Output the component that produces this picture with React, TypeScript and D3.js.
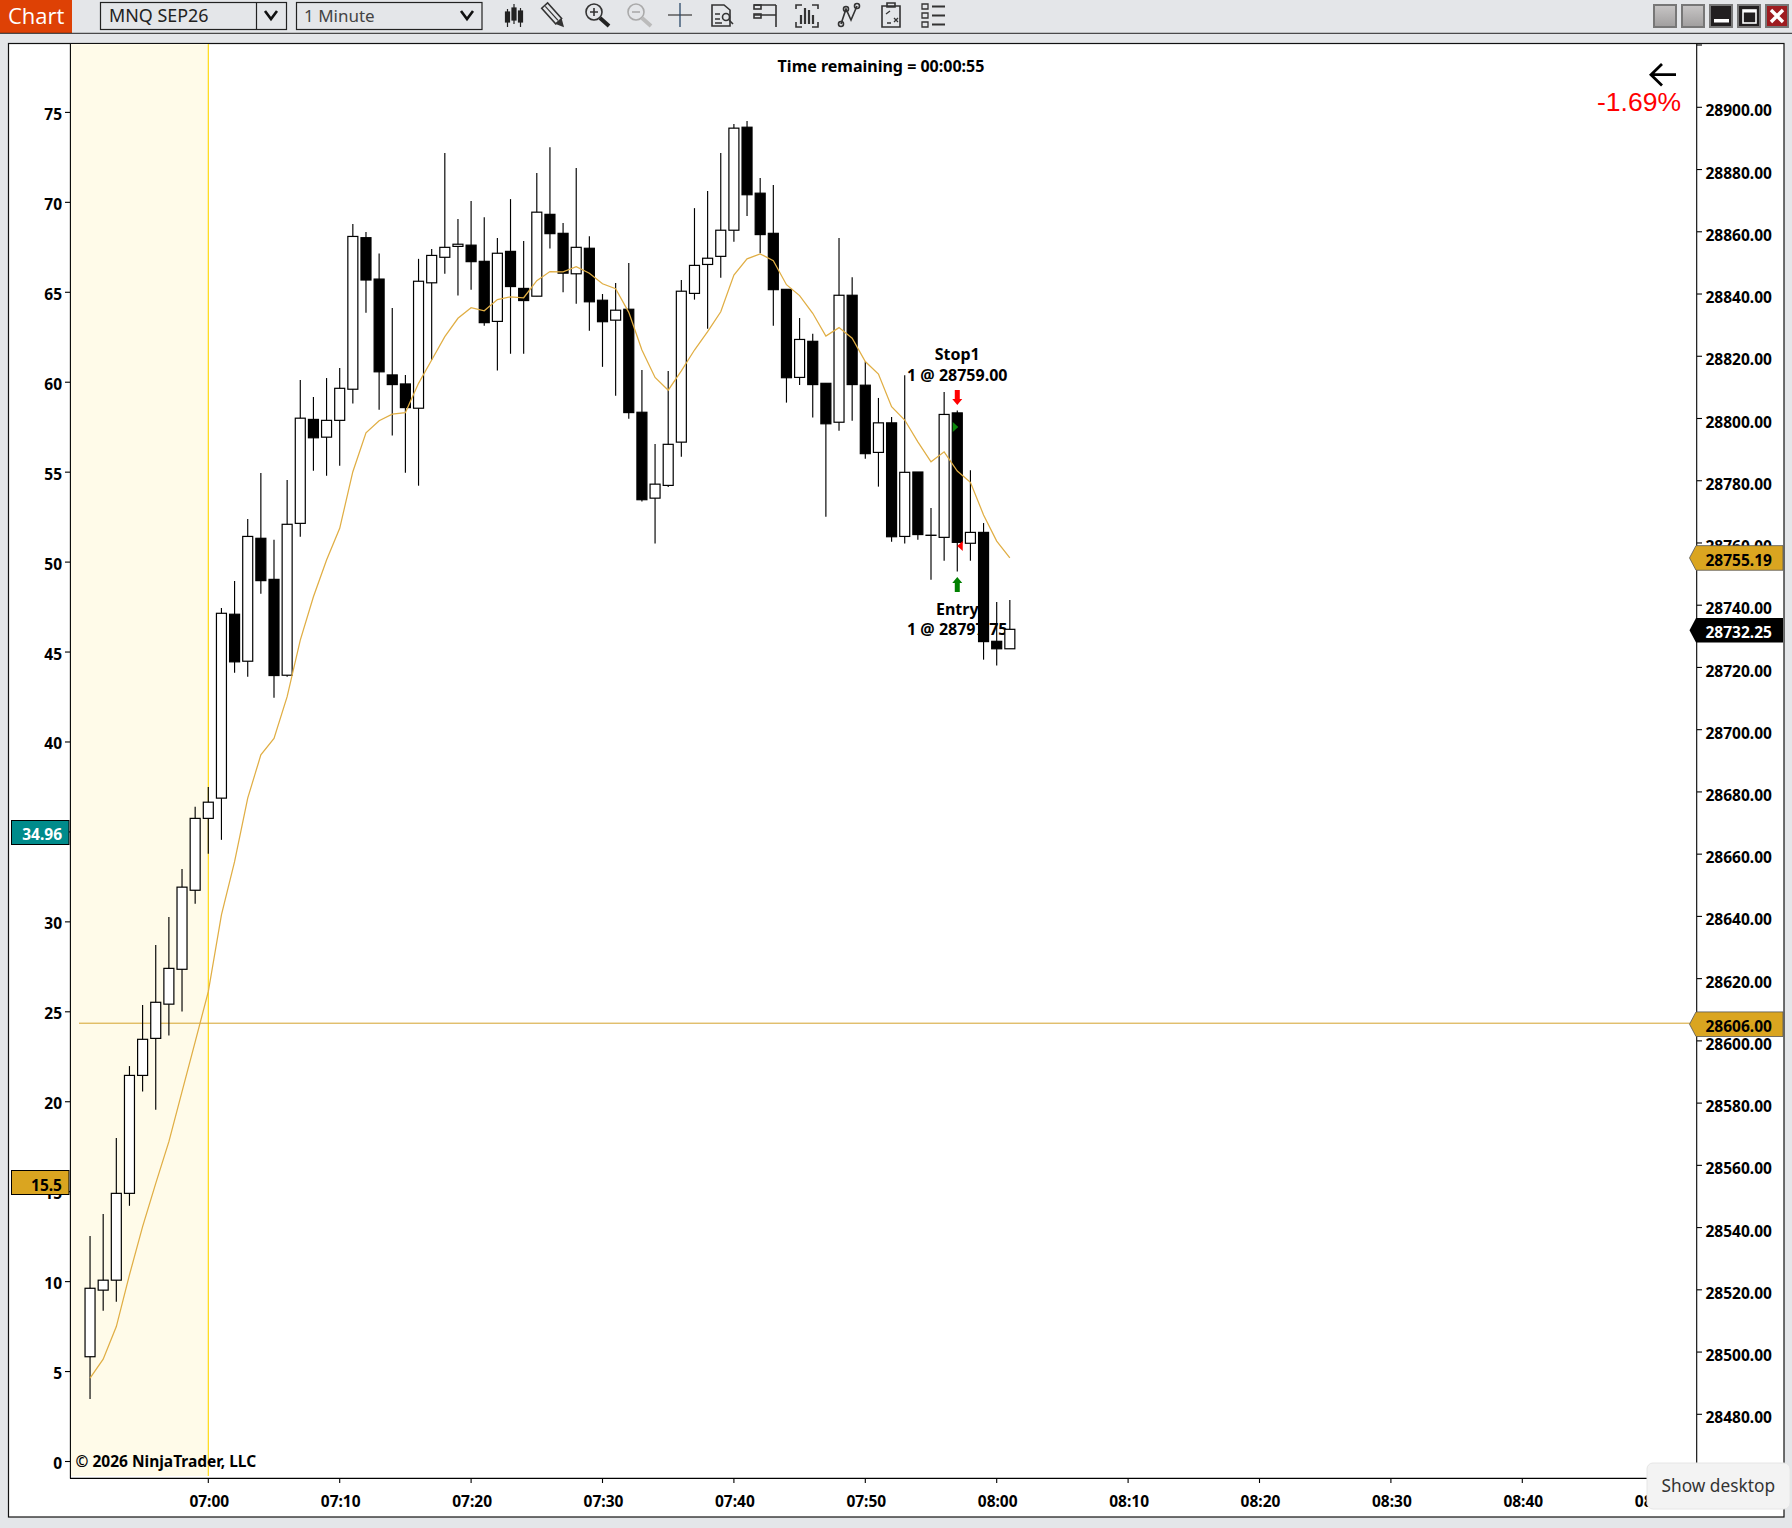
import React from "react";
import * as d3 from "d3";

// ---------- data ----------
const minuteOffsets = d3.range(-9, 62); // minutes relative to 07:00
const opens = [28498.5,28519.9,28523.1,28551,28588.9,28600.8,28611.8,28623,28648.4,28671.5,28678,28737.1,28722,28761.5,28748.3,28717.5,28766.3,28799.7,28794,28799.4,28809.4,28858.1,28844.8,28814,28811.1,28803.3,28843.6,28851.8,28855.3,28855.7,28850.5,28831.2,28853.7,28841.8,28839.3,28865.6,28859.5,28846.5,28854.7,28838,28831.6,28835.1,28802,28774.4,28778.5,28792.4,28840.2,28849.5,28852.1,28860.5,28893.6,28872.4,28859.5,28841.5,28813.2,28824.8,28811.3,28798.8,28839.6,28810.7,28789.1,28798.6,28762.1,28782.8,28762.5,28761.8,28801.8,28759.9,28763.4,28728.4,28726];
const highs = [28537.3,28544.4,28568.8,28591.9,28611.5,28630.8,28639.8,28655.2,28675.2,28681.6,28739.1,28747.8,28767.7,28782.5,28761,28780.2,28812.4,28806.9,28813,28816.2,28862.5,28859.9,28853,28835.5,28814,28851.3,28854.5,28885.3,28864.1,28869.9,28864.7,28858,28870.5,28857,28878.9,28887.2,28862.8,28880.5,28858.6,28840,28843.5,28850,28815.6,28791.8,28815.3,28844.5,28867.6,28873.1,28885.3,28894.6,28895.6,28877.3,28875,28841.5,28832.3,28827.2,28811.3,28858,28845.4,28818.3,28806.6,28800.5,28813.9,28782.8,28771.2,28808.5,28802.6,28783.4,28766.4,28741,28741.7];
const lows = [28484.9,28513.3,28516.2,28547,28583.7,28577.9,28601.7,28609.4,28644.1,28660.1,28664.6,28718.3,28717,28743.7,28710.3,28717,28762,28783.2,28781.6,28784.8,28804.8,28834,28802.8,28794.5,28782.6,28778.4,28818.8,28846.5,28839.5,28841.4,28829.8,28815.4,28820.8,28820.8,28839.3,28854.6,28840.6,28836.9,28828.2,28816.6,28807.3,28799.9,28773.3,28759.8,28778,28787.7,28838.2,28828.8,28845.2,28856.8,28865.1,28853.1,28829.8,28805.1,28810.8,28800.3,28768.4,28796.1,28799.3,28787.1,28778.1,28760.4,28759.8,28761,28748.2,28754.3,28750.8,28754.3,28722.5,28720.6,28726];
const closes = [28520.5,28523.1,28551,28588.9,28600.5,28612.4,28623.3,28649.4,28671.5,28676.7,28737.4,28721.8,28762.1,28747.9,28717.4,28766,28800.1,28793.8,28799.4,28809.7,28858.5,28844.5,28815,28810.9,28803.5,28844.1,28852.4,28855,28856,28850.4,28830.8,28853.1,28842.4,28837.9,28866.3,28859.4,28846.7,28855,28837.5,28831.1,28834.8,28801.9,28773.9,28778.9,28791.7,28840.9,28849.2,28851.5,28860.5,28893.3,28871.9,28859.1,28841.4,28813.1,28825.4,28810.9,28798.3,28839.6,28810.9,28788.7,28798.6,28762,28782.7,28762.7,28762.5,28801.3,28760.2,28763.4,28728.3,28726,28732.25];
const emaValues = [28491.6,28497.7,28508.2,28524.8,28540.3,28554.2,28567.6,28583.7,28599.7,28615.8,28640.5,28657.6,28678,28691.9,28697.2,28710.6,28728.8,28742.7,28754.5,28764.7,28782.9,28795.4,28799.3,28801.4,28801.9,28811.3,28818.8,28826.3,28832.2,28835.6,28834.6,28838.2,28839.1,28838.8,28844.3,28847.2,28847.1,28848.8,28846.7,28843.3,28841.7,28834.1,28822,28813.2,28809.1,28815.3,28822,28827.9,28834.3,28846.1,28851.3,28852.9,28850.7,28843,28839.5,28833.8,28826.5,28829.2,28825.8,28818.3,28814.3,28803.8,28799.5,28792.5,28786.1,28789.3,28783.1,28779.5,28769,28760.6,28755.19];

const priceTicks = [28480,28500,28520,28540,28560,28580,28600,28620,28640,28660,28680,28700,28720,28740,28760,28780,28800,28820,28840,28860,28880,28900];
const leftTicks = [0,5,10,15,20,25,30,35,40,45,50,55,60,65,70,75];
const timeTicks = [0,10,20,30,40,50,60,70,80,90,100,110];
const timeLabels = ["07:00","07:10","07:20","07:30","07:40","07:50","08:00","08:10","08:20","08:30","08:40","08:50"];

const lastPrice = 28732.25;
const emaLast = 28755.19;
const levelPrice = 28606;
const leftValueA = 34.96;
const leftValueB = 15.5;
const tradeBar = 57;
const entryPrice = 28797.25;
const stopPrice = 28759;

// ---------- scales ----------
const W = 1792, H = 1528;
const x = d3.scaleLinear().domain([0, 100]).range([208.3, 1522.3]);
const y = d3.scaleLinear().domain([28480, 28900]).range([1414.3, 107.3]);
const yLeft = d3.scaleLinear().domain([0, 75]).range([1461.5, 112.4]);
const FONT = "'Noto Sans', sans-serif";
const BG = "#E4E6E9";
const GOLD = "#DAA520";

const emaPath = d3.line<number>().x((_, i) => x(minuteOffsets[i])).y((d) => y(d))(emaValues) ?? "";

const label = { fontFamily: FONT, fontWeight: 700, fontSize: 15.5, fill: "#000" } as const;
const note = { ...label, fontSize: 16 } as const;

function tag(yc: number) {
  const t = yc - 12.3, b = yc + 12.3;
  return `M1689.5,${yc} L1696,${t} L1783,${t} L1783,${b} L1696,${b} Z`;
}

function ToolIcons() {
  const s = { fill: "none", stroke: "#333", strokeWidth: 1.6 } as const;
  return (
    <g>
      {/* bars */}
      <g stroke="#222" strokeWidth={1.2}>
        <line x1={507.5} x2={507.5} y1={9} y2={27} /><line x1={514} x2={514} y1={4} y2={24} /><line x1={520.5} x2={520.5} y1={8} y2={27} />
        <rect x={505.5} y={12} width={4} height={10} fill="#222" /><rect x={512} y={8} width={4} height={12} fill="#222" /><rect x={518.5} y={11} width={4} height={11} fill="#222" />
      </g>
      {/* pencil */}
      <g transform="translate(554,16) rotate(48)">
        <rect x={-14} y={-4} width={21} height={8} fill="none" stroke="#333" strokeWidth={1.5} />
        <path d="M-13,0 H6" stroke="#333" strokeWidth={1.2} />
        <path d="M7,-4 L15,0 L7,4 Z" fill="#333" />
      </g>
      {/* zoom in */}
      <circle cx={594} cy={12} r={8} {...s} />
      <path d="M590,12 H598 M594,8 V16" {...s} />
      <path d="M600,18 L609,26" stroke="#222" strokeWidth={4} />
      {/* zoom out */}
      <circle cx={636} cy={12} r={8} fill="none" stroke="#aaa" strokeWidth={1.6} />
      <path d="M632,12 H640" stroke="#aaa" strokeWidth={1.6} />
      <path d="M642,18 L651,26" stroke="#bbb" strokeWidth={4} />
      {/* crosshair */}
      <path d="M668,15 H692" stroke="#444" strokeWidth={1.3} />
      <path d="M680,3 V27" stroke="#2a4a6a" strokeWidth={1.3} />
      {/* doc */}
      <path d="M712,5 H724 L730,10 V26 H712 Z" {...s} />
      <path d="M715,14 H720 M715,19 H720 M715,23 H722" {...s} />
      <circle cx={726} cy={17} r={3.5} {...s} />
      <path d="M729,20 L733,24" {...s} />
      {/* data box */}
      <path d="M754,5 H776 M754,15 H776 M776,5 V27" {...s} />
      <rect x={754} y={5} width={7} height={4} {...s} /><rect x={754} y={14} width={7} height={4} {...s} />
      {/* bracket bars */}
      <path d="M796,9 V5 H802 M812,5 H818 V9 M796,22 V27 H802 M812,27 H818 V22" {...s} />
      <path d="M801,24 V15 M805,24 V8 M809,24 V10 M813,24 V15" stroke="#333" strokeWidth={2.2} />
      {/* polyline */}
      <path d="M841,24 L846,9 L851,20 L857,6" {...s} />
      <circle cx={841} cy={24} r={2.5} {...s} /><circle cx={846} cy={9} r={2.5} {...s} /><circle cx={857} cy={6} r={2.5} {...s} />
      {/* fx */}
      <path d="M882,6 H900 V27 H882 Z M887,3 H895 V7 H887 Z" {...s} />
      <path d="M886,14 L890,11 M894,18 L898,22 M898,18 L894,22 M887,23 L891,23" stroke="#333" strokeWidth={1.3} />
      {/* list */}
      <path d="M922,4 h6 v5 h-6 Z M922,13 h6 v5 h-6 Z M922,22 h6 v5 h-6 Z" {...s} strokeWidth={1.3} />
      <path d="M932,6.5 H945 M932,15.5 H945 M932,24.5 H945" {...s} strokeWidth={2} />
    </g>
  );
}

export default function App() {
  return (
    <svg width={W} height={H} viewBox={`0 0 ${W} ${H}`} style={{ position: "fixed", left: 0, top: 0, background: BG }}>
      <defs>
        <linearGradient id="btn" x1="0" x2="0" y1="0" y2="1">
          <stop offset="0" stopColor="#c8c6c6" /><stop offset="1" stopColor="#a09e9e" />
        </linearGradient>
      </defs>

      {/* toolbar */}
      <rect x={0} y={0} width={W} height={33} fill={BG} />
      <rect x={0} y={0} width={72} height={33} fill="#DE4105" />
      <text x={8} y={24} fontFamily="'Open Sans', sans-serif" fontSize={22} fill="#fff">Chart</text>
      <rect x={100.5} y={2.5} width={186} height={27} fill={BG} stroke="#222" strokeWidth={1.2} />
      <line x1={256.5} x2={256.5} y1={2.5} y2={29.5} stroke="#222" strokeWidth={1.2} />
      <text x={109} y={22} fontFamily={FONT} fontSize={17.9} fill="#222">MNQ SEP26</text>
      <path d="M265,11 L271,19 L277,11" fill="none" stroke="#111" strokeWidth={2.6} />
      <rect x={296.5} y={2.5} width={185.5} height={27} fill={BG} stroke="#222" strokeWidth={1.2} />
      <text x={304} y={22} fontFamily={FONT} fontSize={17} fill="#444">1 Minute</text>
      <path d="M461,11 L467,19 L473,11" fill="none" stroke="#111" strokeWidth={2.6} />
      <ToolIcons />
      <line x1={0} x2={W} y1={33.3} y2={33.3} stroke="#222" strokeWidth={1} />

      {/* window buttons */}
      <rect x={1654} y={5} width={22} height={22} fill="url(#btn)" stroke="#777" strokeWidth={2} />
      <rect x={1682} y={5} width={22} height={22} fill="url(#btn)" stroke="#777" strokeWidth={2} />
      <rect x={1710} y={5} width={22} height={22} fill="#221f20" stroke="#777" strokeWidth={2} />
      <rect x={1714} y={19} width={15} height={3.5} fill="#fff" />
      <rect x={1738} y={5} width={22} height={22} fill="#221f20" stroke="#777" strokeWidth={2} />
      <rect x={1743} y={10} width={13} height={13} fill="none" stroke="#fff" strokeWidth={1.6} />
      <rect x={1743} y={10} width={13} height={2.5} fill="#fff" />
      <rect x={1766} y={5} width={22} height={22} fill="#9E1C20" stroke="#777" strokeWidth={2} />
      <path d="M1771,10 L1783,22 M1783,10 L1771,22" stroke="#fff" strokeWidth={3.4} />

      {/* chart frame */}
      <rect x={8.5} y={43.5} width={1775.5} height={1473.5} fill="#fff" stroke="#111" strokeWidth={1.2} />

      {/* session shading */}
      <rect x={70.5} y={44} width={x(0) - 70.5} height={1432} fill="#FFFBE9" />
      <line x1={x(0)} x2={x(0)} y1={44} y2={1476} stroke="#FFD700" strokeWidth={1.1} />

      {/* axes */}
      <line x1={70.4} x2={70.4} y1={44} y2={1478.5} stroke="#000" strokeWidth={1.1} />
      <line x1={1696.7} x2={1696.7} y1={44} y2={1478.5} stroke="#000" strokeWidth={1.1} />
      <line x1={70} x2={1697} y1={1478.4} y2={1478.4} stroke="#000" strokeWidth={1.1} />
      <line x1={1697} x2={1702} y1={45} y2={45} stroke="#000" strokeWidth={1.1} />

      {leftTicks.map((t) => (
        <g key={t}>
          <line x1={65} x2={70} y1={yLeft(t)} y2={yLeft(t)} stroke="#000" strokeWidth={1.1} />
          <text x={62} y={yLeft(t) + 7.5} textAnchor="end" {...label}>{t}</text>
        </g>
      ))}
      {priceTicks.map((t) => (
        <g key={t}>
          <line x1={1697} x2={1702} y1={y(t)} y2={y(t)} stroke="#000" strokeWidth={1.1} />
          <text x={1705.5} y={y(t) + 9.1} {...label}>{t.toFixed(2)}</text>
        </g>
      ))}
      {timeTicks.map((t, i) => (
        <g key={t}>
          <line x1={x(t)} x2={x(t)} y1={1478} y2={1483} stroke="#000" strokeWidth={1.1} />
          <text x={x(t) + 1} y={1507} textAnchor="middle" {...label}>{timeLabels[i]}</text>
        </g>
      ))}

      {/* notes under candles */}
      <text x={881} y={71.5} textAnchor="middle" {...note}>Time remaining = 00:00:55</text>
      <text x={75.5} y={1467} {...label}>© 2026 NinjaTrader, LLC</text>
      <text x={x(tradeBar)} y={360} textAnchor="middle" {...note}>Stop1</text>
      <text x={x(tradeBar)} y={381} textAnchor="middle" {...note}>1 @ {stopPrice.toFixed(2)}</text>
      <text x={x(tradeBar)} y={614.5} textAnchor="middle" {...note}>Entry</text>
      <text x={x(tradeBar)} y={635} textAnchor="middle" {...note}>1 @ 28797.75</text>

      {/* horizontal level */}
      <line x1={79} x2={1696} y1={y(levelPrice) + 1} y2={y(levelPrice) + 1} stroke="#D4A32C" strokeWidth={1} />

      {/* candles */}
      {minuteOffsets.map((m, i) => {
        const up = closes[i] >= opens[i];
        const top = y(Math.max(opens[i], closes[i]));
        const bot = y(Math.min(opens[i], closes[i]));
        return (
          <g key={m}>
            <line x1={x(m)} x2={x(m)} y1={y(highs[i])} y2={y(lows[i])} stroke="#000" strokeWidth={1.15} />
            <rect x={x(m) - 5} y={top} width={10} height={Math.max(bot - top, 0.2)} fill={up ? "#fff" : "#000"} stroke="#000" strokeWidth={1.2} />
          </g>
        );
      })}

      {/* moving average */}
      <path d={emaPath} fill="none" stroke="#E0AE44" strokeWidth={1.25} />

      {/* trade markers */}
      <path d={`M${x(tradeBar) - 2.5},390 h5 v9 h2.5 l-5,6 l-5,-6 h2.5 Z`} fill="#FF0000" />
      <path d={`M${x(tradeBar) - 2.5},592 h5 v-9 h2.5 l-5,-6 l-5,6 h2.5 Z`} fill="#008000" />
      <path d={`M${x(tradeBar) - 4.5},${y(entryPrice) - 5} l5.5,5 l-5.5,5 Z`} fill="#0B8A0B" />
      <path d={`M${x(tradeBar) + 5.5},${y(stopPrice) - 5} l-5.5,5 l5.5,5 Z`} fill="#FF0000" />

      {/* top-right annotation */}
      <path d="M1676,74.7 H1651 M1662,64 L1651,74.7 L1662,85.4" fill="none" stroke="#000" strokeWidth={2.8} />
      <text x={1681} y={110.7} textAnchor="end" fontFamily="'Liberation Sans', Arial, sans-serif" fontSize={26.5} fill="#FF0000">-1.69%</text>

      {/* left value tags */}
      <rect x={11.5} y={820.5} width={57.5} height={24} fill="#008B8B" stroke="#000" strokeWidth={1} />
      <text x={62} y={yLeft(leftValueA) + 7.5} textAnchor="end" {...label} fill="#fff">{leftValueA}</text>
      <rect x={11.5} y={1170.5} width={57.5} height={24} fill={GOLD} stroke="#000" strokeWidth={1} />
      <text x={62} y={yLeft(leftValueB) + 8} textAnchor="end" {...label}>{leftValueB}</text>

      {/* right value tags */}
      <path d={tag(y(emaLast))} fill={GOLD} stroke="#555" strokeWidth={0.8} />
      <text x={1705.5} y={y(emaLast) + 8.2} {...label}>{emaLast.toFixed(2)}</text>
      <path d={tag(y(lastPrice) + 1)} fill="#000" />
      <text x={1705.5} y={y(lastPrice) + 8.7} {...label} fill="#fff">{lastPrice.toFixed(2)}</text>
      <path d={tag(y(levelPrice) + 2)} fill={GOLD} stroke="#555" strokeWidth={0.8} />
      <text x={1705.5} y={y(levelPrice) + 9.3} {...label}>{levelPrice.toFixed(2)}</text>

      {/* tooltip */}
      <rect x={1647} y={1463} width={143} height={46} rx={6} fill="#F3F3F3" stroke="#E6E6E6" />
      <text x={1661.5} y={1491.5} fontFamily={FONT} fontSize={17.3} fill="#333">Show desktop</text>
    </svg>
  );
}
